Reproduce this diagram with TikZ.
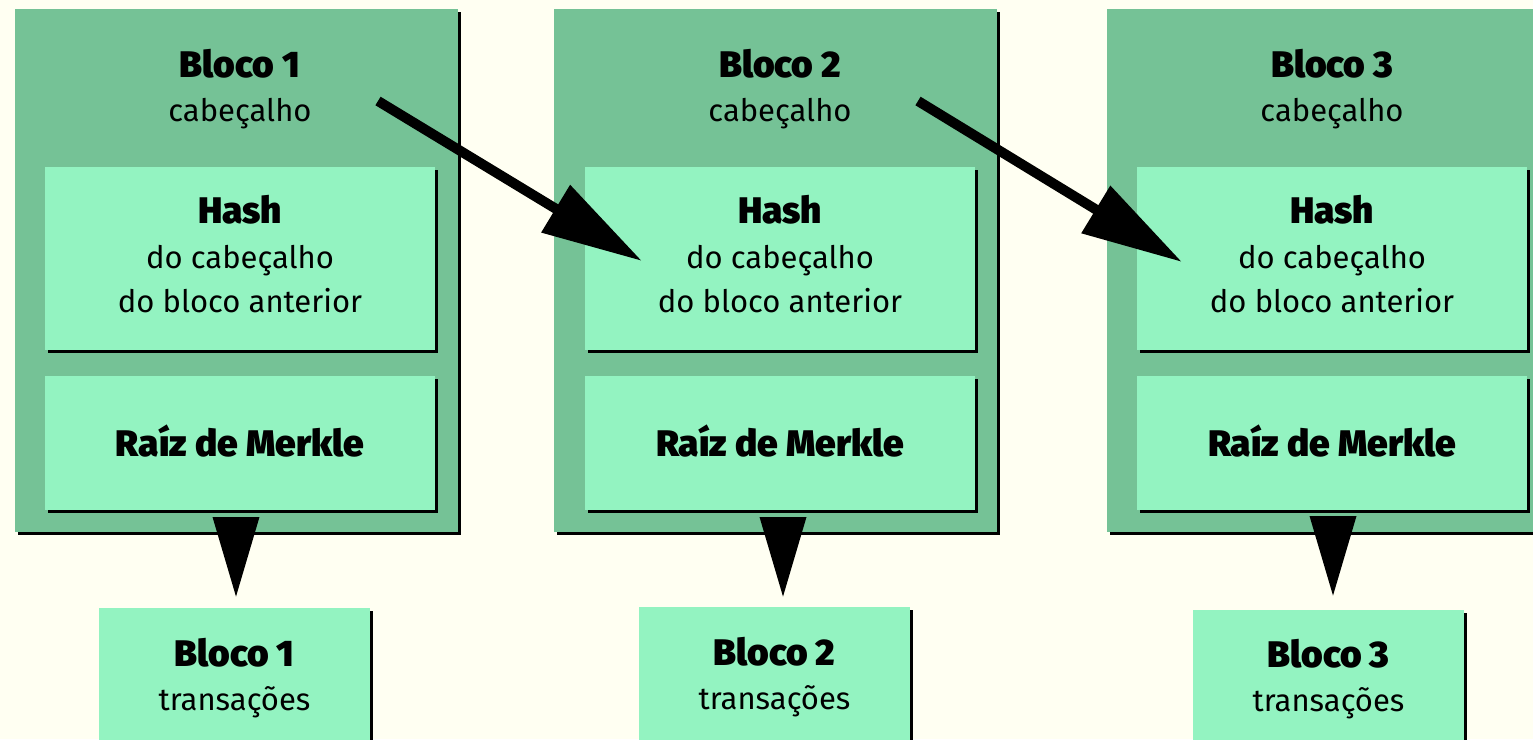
\documentclass[tikz,border=0pt]{standalone}
\usepackage{fontspec}
\setmainfont{Fira Sans}
\IfFontExistsTF{Fira Sans Black}{\newfontfamily\hvy{Fira Sans Black}}{\newcommand\hvy{\bfseries}}
\usetikzlibrary{arrows.meta,shadows}
\definecolor{bgc}{HTML}{FFFFF2}
\definecolor{outerg}{HTML}{75C296}
\definecolor{innerg}{HTML}{93F3C1}
\begin{document}
\begin{tikzpicture}[x=1pt,y=-1pt,
  box/.style={rectangle, inner sep=0pt, outer sep=0pt, anchor=north west,
    drop shadow={shadow xshift=3pt,shadow yshift=-3pt,fill=black,opacity=1}},
  outerbox/.style={box, fill=outerg, minimum width=443pt, minimum height=523pt},
  innerbox/.style={box, fill=innerg, minimum width=390pt},
  hashbox/.style={innerbox, minimum height=183pt},
  merklebox/.style={innerbox, minimum height=134pt},
  transbox/.style={box, fill=innerg, minimum width=271pt, minimum height=160pt},
  hd/.style={font=\hvy\fontsize{37}{37}\selectfont, anchor=base, inner sep=0pt},
  tx/.style={font=\fontsize{31}{31}\selectfont, anchor=base, inner sep=0pt},
  link/.style={line width=10pt, -{Triangle[length=101pt,width=53pt]}},
  down/.style={line width=10pt, -{Triangle[length=81pt,width=44pt]}}]
\useasboundingbox (0,0) rectangle (1533,739);
\clip (0,0) rectangle (1533,739);
\fill[bgc] (0,0) rectangle (1533,739);

% block 1
\node[outerbox] (o1) at (15,9) {};
\node[hashbox] (hb1) at (45,167) {};
\node[merklebox] (mk1) at (45,376) {};
\node[transbox] (tr1) at (99,608) {};
% block 2
\node[outerbox] (o2) at (554,9) {};
\node[hashbox] (hb2) at (585,167) {};
\node[merklebox] (mk2) at (585,376) {};
\node[transbox] (tr2) at (639,607) {};
% block 3
\node[outerbox] (o3) at (1107,9) {};
\node[hashbox] (hb3) at (1137,167) {};
\node[merklebox] (mk3) at (1137,376) {};
\node[transbox] (tr3) at (1193,610) {};

% texts block 1
\node[hd] (t1a) at (240,77) {Bloco 1};
\node[tx] (t1b) at (240,121) {cabeçalho};
\node[hd] (t1c) at (240,223) {Hash};
\node[tx] (t1d) at (240,268) {do cabeçalho};
\node[tx] (t1e) at (240,312) {do bloco anterior};
\node[hd] (t1f) at (240,456) {Raíz de Merkle};
\node[hd] (t1g) at (234.5,666) {Bloco 1};
\node[tx] (t1h) at (234.5,710) {transações};
% texts block 2
\node[hd] (t2a) at (780,77) {Bloco 2};
\node[tx] (t2b) at (780,121) {cabeçalho};
\node[hd] (t2c) at (780,223) {Hash};
\node[tx] (t2d) at (780,268) {do cabeçalho};
\node[tx] (t2e) at (780,312) {do bloco anterior};
\node[hd] (t2f) at (780,456) {Raíz de Merkle};
\node[hd] (t2g) at (774.5,665) {Bloco 2};
\node[tx] (t2h) at (774.5,709) {transações};
% texts block 3
\node[hd] (t3a) at (1332,77) {Bloco 3};
\node[tx] (t3b) at (1332,121) {cabeçalho};
\node[hd] (t3c) at (1332,223) {Hash};
\node[tx] (t3d) at (1332,268) {do cabeçalho};
\node[tx] (t3e) at (1332,312) {do bloco anterior};
\node[hd] (t3f) at (1332,456) {Raíz de Merkle};
\node[hd] (t3g) at (1328.5,667) {Bloco 3};
\node[tx] (t3h) at (1328.5,711) {transações};

% connectors
\coordinate (s1) at (378,101);
\coordinate (e1) at (642,261);
\coordinate (s2) at (918,101);
\coordinate (e2) at (1182,262);
\draw[link] (s1) -- (e1);
\draw[link] (s2) -- (e2);
\coordinate (d1s) at (236,517);
\coordinate (d1e) at (236,598);
\coordinate (d2s) at (783,518);
\coordinate (d2e) at (783,598);
\coordinate (d3s) at (1333,518);
\coordinate (d3e) at (1333,597);
\draw[down] (d1s) -- (d1e);
\draw[down] (d2s) -- (d2e);
\draw[down] (d3s) -- (d3e);
\end{tikzpicture}
\end{document}
